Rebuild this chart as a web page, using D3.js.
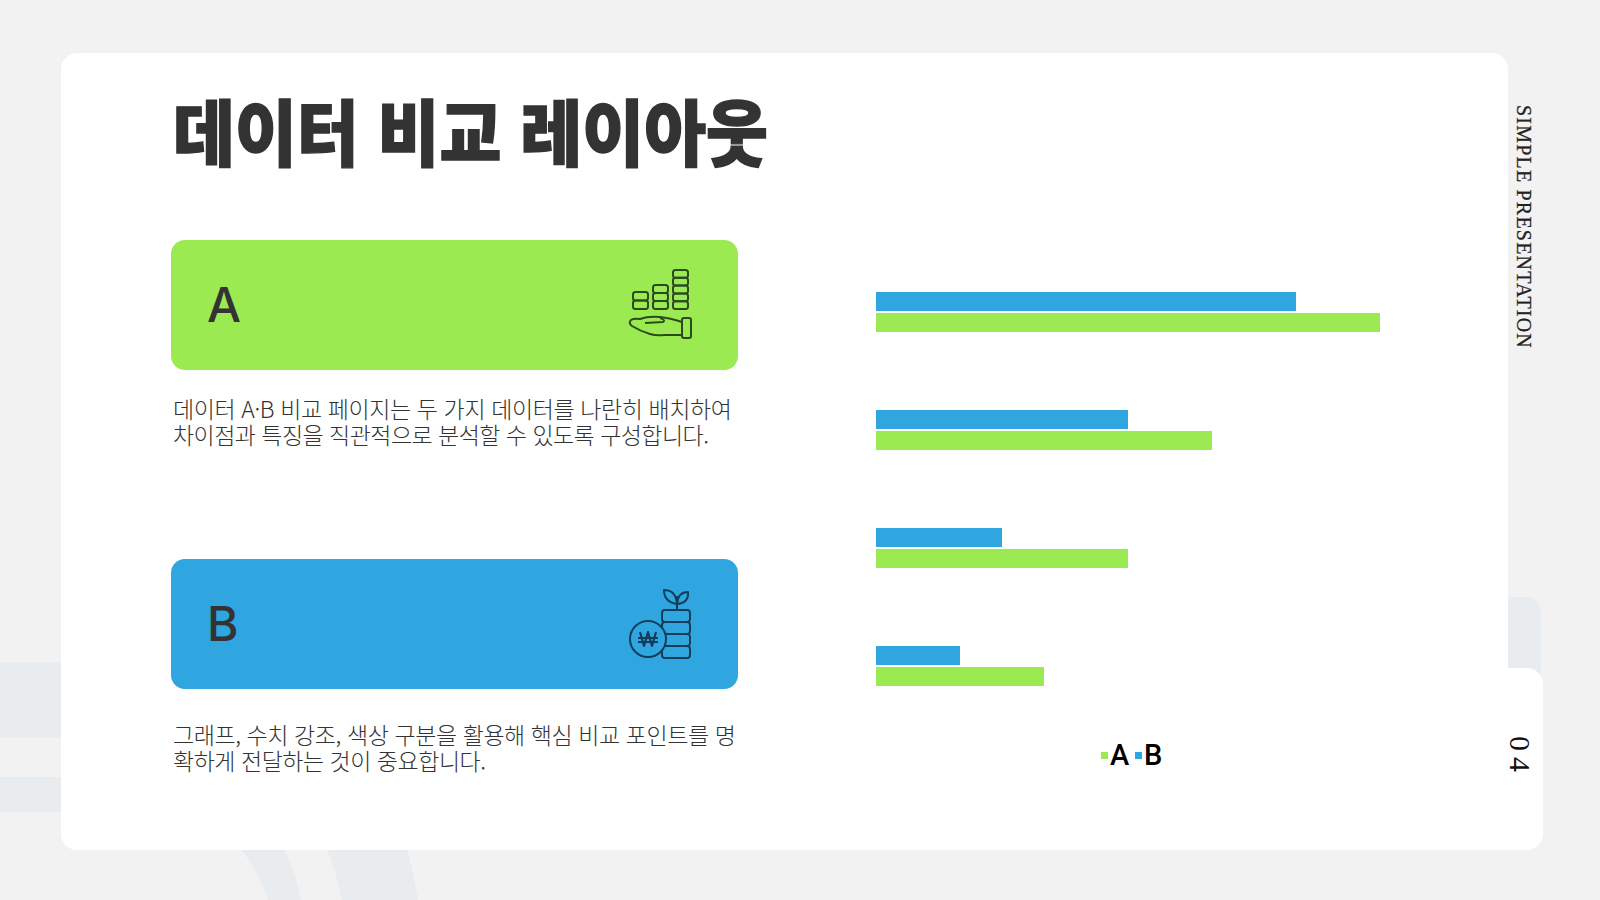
<!DOCTYPE html>
<html lang="ko">
<head>
<meta charset="utf-8">
<script src="https://cdn.jsdelivr.net/npm/d3@7"></script>
<style>
  html, body { margin: 0; padding: 0; background: #f2f2f2; }
  svg { display: block; }
  text { font-family: "Noto Sans CJK KR", "Noto Sans", sans-serif; }
</style>
</head>
<body>
<script>
// chart values
const categories = ['1', '2', '3', '4'];
const seriesNames = ['A', 'B'];
const valuesA = [60, 40, 30, 20];
const valuesB = [50, 30, 15, 10];

const titleText = '데이터 비교 레이아웃';
const descA = ['데이터 A·B 비교 페이지는 두 가지 데이터를 나란히 배치하여', '차이점과 특징을 직관적으로 분석할 수 있도록 구성합니다.'];
const descB = ['그래프, 수치 강조, 색상 구분을 활용해 핵심 비교 포인트를 명', '확하게 전달하는 것이 중요합니다.'];

const GREEN = '#9cea52', BLUE = '#2fa6e0', DARK = '#333333', BAND = '#e9ecef';

const svg = d3.select('body').append('svg')
    .attr('width', 1600)
    .attr('height', 900);

svg.append('rect').attr('width', 1600).attr('height', 900).attr('fill', '#f2f2f2');

// faded shapes behind the card
svg.append('rect').attr('x', 0).attr('y', 662).attr('width', 80).attr('height', 76).attr('fill', BAND);
svg.append('rect').attr('x', 0).attr('y', 777).attr('width', 80).attr('height', 35).attr('fill', BAND);
svg.append('path').attr('d', 'M238,845 L282,845 Q296,872 301,900 L268,900 Q258,870 238,845 Z').attr('fill', BAND);
svg.append('path').attr('d', 'M325,845 L406,845 Q414,875 418,900 L342,900 Q336,870 325,845 Z').attr('fill', BAND);
svg.append('rect').attr('x', 1480).attr('y', 597).attr('width', 61).attr('height', 100).attr('rx', 14).attr('fill', BAND);

// white card and page tab
svg.append('rect').attr('x', 61).attr('y', 53).attr('width', 1447).attr('height', 797).attr('rx', 16).attr('fill', '#fff');
svg.append('rect').attr('x', 1460).attr('y', 668).attr('width', 83).attr('height', 182).attr('rx', 16).attr('fill', '#fff');

// title
svg.append('text')
    .attr('x', 173).attr('y', 160)
    .attr('font-size', 72)
    .attr('font-weight', 900)
    .attr('fill', DARK)
    .attr('stroke', DARK)
    .attr('stroke-width', 1.4)
    .attr('textLength', 595)
    .attr('lengthAdjust', 'spacingAndGlyphs')
    .text(titleText);

// colored panels
const panels = [
    { name: 'A', y: 240, fill: GREEN, desc: descA, descY: 418, widths: [559, 536] },
    { name: 'B', y: 559, fill: BLUE, desc: descB, descY: 744, widths: [563, 313] }
];
panels.forEach(p => {
    svg.append('rect').attr('x', 171).attr('y', p.y).attr('width', 567).attr('height', 130).attr('rx', 14).attr('fill', p.fill);
    svg.append('text')
        .attr('x', 207).attr('y', p.y + 82)
        .style('font-family', 'Inter, "Noto Sans", sans-serif')
        .attr('font-size', 48)
        .attr('font-weight', 500)
        .attr('fill', DARK)
        .text(p.name);
    p.desc.forEach((line, i) => {
        svg.append('text')
            .attr('x', 173).attr('y', p.descY + i * 26)
            .attr('font-size', 23)
            .attr('font-weight', 300)
            .attr('fill', DARK)
            .attr('textLength', p.widths[i])
            .attr('lengthAdjust', 'spacing')
            .text(line);
    });
});

// icon A: coins over a hand
const iconA = svg.append('g').attr('fill', 'none').attr('stroke', '#2b4a1e').attr('stroke-width', 2).attr('stroke-linejoin', 'round');
[[633, 292, 2], [653, 285, 3], [673, 270, 5]].forEach(([x, y, n]) => {
    const h = (309 - y) / n;
    d3.range(n).forEach(i => {
        iconA.append('rect').attr('x', x).attr('y', y + i * h).attr('width', 15).attr('height', h).attr('rx', 2.5);
    });
});
iconA.append('path').attr('d', 'M682,322 Q670,318 660,317 Q648,316 640,319 Q634,318 631,320 Q628,323 632,326 Q640,331 650,334 Q656,336 664,335 L682,335');
iconA.append('path').attr('d', 'M645,323 L663,322 Q666,320 660,318');
iconA.append('rect').attr('x', 682).attr('y', 318).attr('width', 9).attr('height', 20).attr('rx', 2);

// icon B: won coin, stack and sprout
const iconB = svg.append('g').attr('fill', 'none').attr('stroke', '#123e5c').attr('stroke-width', 2).attr('stroke-linejoin', 'round');
[0, 1, 2, 3].forEach(i => {
    iconB.append('rect').attr('x', 662).attr('y', 610 + i * 12).attr('width', 28).attr('height', 12).attr('rx', 3);
});
iconB.append('circle').attr('cx', 648).attr('cy', 639).attr('r', 18).attr('fill', BLUE);
iconB.append('path').attr('d', 'M640,632 L644,646 L648,632 L652,646 L656,632 M638,638 H658 M638,642 H658').attr('stroke-width', 2.2);
iconB.append('path').attr('d', 'M677,610 V596');
iconB.append('path').attr('d', 'M677,604 Q664,602 664,590 Q676,590 677,604 Z');
iconB.append('path').attr('d', 'M677,604 Q689,603 688,592 Q678,592 677,604 Z');

// grouped bars
const x = d3.scaleLinear().domain([0, 60]).range([876, 1380]);
const y0 = d3.scaleBand().domain(categories).range([253, 725]);
const y1 = d3.scaleBand().domain(['B', 'A']).range([39, 79]).paddingInner(0.095);

const barData = categories.map((c, i) => ({ c, A: valuesA[i], B: valuesB[i] }));
const groups = svg.selectAll('g.bar-group').data(barData).enter().append('g')
    .attr('class', 'bar-group')
    .attr('transform', d => `translate(0,${y0(d.c)})`);
groups.selectAll('rect')
    .data(d => seriesNames.map(s => ({ s, v: d[s] })))
    .enter().append('rect')
    .attr('x', x(0))
    .attr('y', d => y1(d.s))
    .attr('width', d => x(d.v) - x(0))
    .attr('height', y1.bandwidth())
    .attr('fill', d => d.s === 'A' ? GREEN : BLUE);

// legend
const legend = svg.append('g');
const legendX = d3.scalePoint().domain(seriesNames).range([1101, 1135]);
seriesNames.forEach(s => {
    legend.append('rect')
        .attr('x', legendX(s)).attr('y', 752).attr('width', 7).attr('height', 7)
        .attr('fill', s === 'A' ? GREEN : BLUE);
    legend.append('text')
        .attr('x', legendX(s) + 9).attr('y', 765)
        .attr('font-size', 29)
        .attr('font-weight', 500)
        .attr('fill', '#000')
        .style('font-family', 'Roboto, "Noto Sans", sans-serif')
        .text(s);
});

// rotated side labels
svg.append('text')
    .attr('transform', 'translate(1517,105) rotate(90)')
    .attr('font-size', 20)
    .attr('letter-spacing', 1.2)
    .attr('stroke', '#222')
    .attr('stroke-width', 0.25)
    .attr('fill', '#222')
    .style('font-family', '"Liberation Serif", serif')
    .text('SIMPLE PRESENTATION');
svg.append('text')
    .attr('transform', 'translate(1510,736) rotate(90)')
    .attr('font-size', 30)
    .attr('letter-spacing', 6)
    .attr('fill', '#111')
    .style('font-family', '"Liberation Serif", serif')
    .text('04');
</script>
</body>
</html>
